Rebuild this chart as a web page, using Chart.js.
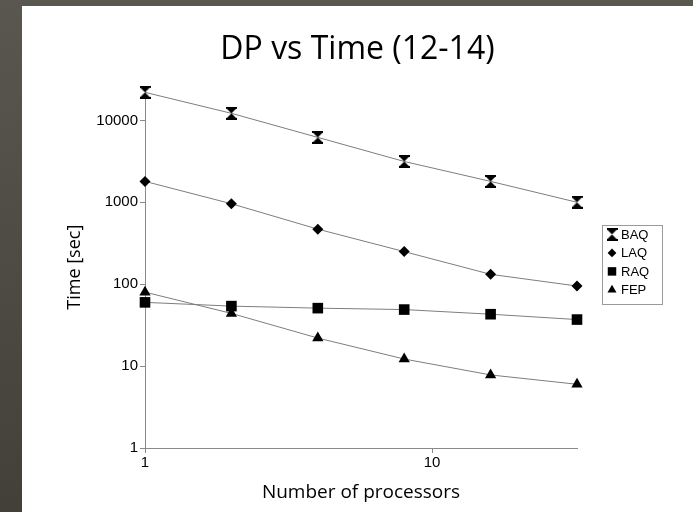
<!DOCTYPE html>
<html>
<head>
<meta charset="utf-8">
<script src="https://cdn.jsdelivr.net/npm/chart.js@4.4.1/dist/chart.umd.min.js"></script>
<style>
  html, body { margin: 0; padding: 0; }
  body {
    width: 693px; height: 512px; overflow: hidden; position: relative;
    background: linear-gradient(#5a5751, #433f39);
  }
  #wrap { position: absolute; left: 22px; top: 6px; width: 671px; height: 506px; background: #fff; }
</style>
</head>
<body>
<div id="wrap"><canvas id="chart"></canvas></div>
<script>
// values
const processors = [1, 2, 4, 8, 16, 32];
const baqTime = [22000, 12200, 6200, 3150, 1800, 1000];
const laqTime = [1800, 960, 470, 250, 132, 95];
const raqTime = [60, 54, 51, 49, 43, 37];
const fepTime = [80, 44, 22, 12.2, 7.8, 6];
const seriesNames = ["BAQ", "LAQ", "RAQ", "FEP"];
const xTickValues = [1, 10];
const yTickValues = [1, 10, 100, 1000, 10000];

// hourglass marker for BAQ
function hourglass() {
  const c = document.createElement("canvas");
  c.width = 11; c.height = 13;
  const g = c.getContext("2d");
  g.fillStyle = "#000";
  g.fillRect(0, 0, 11, 2);
  g.fillRect(0, 11, 11, 2);
  g.beginPath();
  g.moveTo(1, 2); g.lineTo(10, 2); g.lineTo(5.5, 6.5); g.closePath(); g.fill();
  g.beginPath();
  g.moveTo(5.5, 6.5); g.lineTo(10, 11); g.lineTo(1, 11); g.closePath(); g.fill();
  return c;
}

const styles = [
  { pointStyle: hourglass(), radius: 6 },
  { pointStyle: "rectRot", radius: 5.5 },
  { pointStyle: "rect", radius: 7.5 },
  { pointStyle: "triangle", radius: 6.5 }
];
const values = [baqTime, laqTime, raqTime, fepTime];

const legendBox = {
  id: "legendBox",
  afterDraw(chart) {
    const { ctx, chartArea } = chart;
    const x0 = chartArea.right + 25, y0 = chartArea.top + 139;
    ctx.save();
    ctx.strokeStyle = "#9a9a9a";
    ctx.lineWidth = 1;
    ctx.strokeRect(Math.round(x0) + 0.5, Math.round(y0) + 0.5, 60, 79);
    ctx.font = '13px "Liberation Sans"';
    ctx.textBaseline = "middle";
    ctx.fillStyle = "#000";
    chart.data.datasets.forEach((ds, i) => {
      const y = y0 + 9 + i * 18.5;
      const mx = x0 + 10;
      Chart.helpers.drawPoint(ctx, { pointStyle: ds.pointStyle, radius: ds.pointRadius * 0.8, borderWidth: 0, rotation: 0 }, mx, y);
      ctx.fillStyle = "#000";
      ctx.fillText(ds.label, x0 + 19, y + 1);
    });
    ctx.restore();
  }
};

new Chart(document.getElementById("chart"), {
  type: "line",
  data: {
    datasets: seriesNames.map((name, i) => ({
      label: name,
      data: processors.map((p, j) => ({ x: p, y: values[i][j] })),
      borderColor: "#7d7d7d",
      borderWidth: 1,
      pointStyle: styles[i].pointStyle,
      pointRadius: styles[i].radius,
      pointBackgroundColor: "#000",
      pointBorderColor: "#000",
      pointBorderWidth: 0,
      tension: 0,
      clip: false
    }))
  },
  options: {
    responsive: true,
    maintainAspectRatio: false,
    animation: false,
    layout: { padding: 0 },
    plugins: {
      legend: { display: false },
      tooltip: { enabled: false },
      title: {
        display: true,
        text: "DP vs Time (12-14)",
        color: "#000",
        font: { family: "Open Sans", size: 32, weight: "normal", lineHeight: 1.2 },
        padding: { top: 25, bottom: 17 }
      }
    },
    scales: {
      x: {
        type: "logarithmic",
        min: 1,
        max: 32,
        afterBuildTicks: s => { s.ticks = xTickValues.map(v => ({ value: v })); },
        afterFit: s => { s.height = 64; },
        ticks: { color: "#000", font: { family: "Liberation Sans", size: 15 }, padding: 1, maxRotation: 0, callback: v => String(v) },
        grid: { drawOnChartArea: false, drawTicks: true, tickLength: 5, color: "#8a8a8a" },
        border: { color: "#8a8a8a" },
        title: {
          display: true,
          text: "Number of processors",
          color: "#000",
          font: { family: "Open Sans", size: 19 },
          padding: { top: 0, bottom: 8 }
        }
      },
      y: {
        type: "logarithmic",
        min: 1,
        max: 26000,
        afterBuildTicks: s => { s.ticks = yTickValues.map(v => ({ value: v })); },
        afterFit: s => { s.width = 123; },
        ticks: { color: "#000", font: { family: "Liberation Sans", size: 15 }, padding: 2, callback: v => String(v) },
        grid: { drawOnChartArea: false, drawTicks: true, tickLength: 5, color: "#8a8a8a" },
        border: { color: "#8a8a8a", dash: [2, 2] },
        title: {
          display: true,
          text: "Time [sec]",
          color: "#000",
          font: { family: "Open Sans", size: 18 },
          padding: { top: 42, bottom: 0 }
        }
      },
      // empty right-hand axis that only reserves room for the legend
      legendSpace: {
        position: "right",
        afterFit: s => { s.width = 116; },
        grid: { display: false },
        border: { display: false },
        ticks: { display: false }
      }
    }
  },
  plugins: [legendBox]
});
</script>
</body>
</html>
